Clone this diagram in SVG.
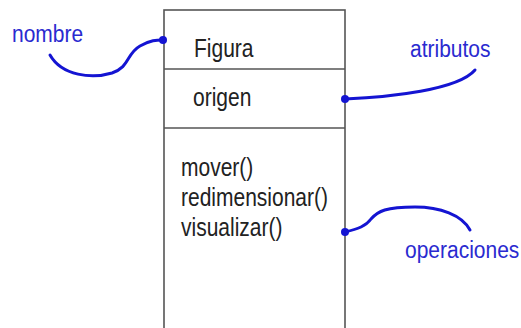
<svg xmlns="http://www.w3.org/2000/svg" width="521" height="328" viewBox="0 0 521 328">
<style>
.box{fill:#fff;stroke:#555;stroke-width:1.6}
.t{font-family:"Liberation Sans",Arial,sans-serif;font-size:21px;fill:#222}
.lbl{font-family:"Liberation Sans",Arial,sans-serif;font-size:21px;fill:#2a2ad0}
.c{fill:none;stroke:#1414d2;stroke-width:3;stroke-linecap:round}
.dot{fill:#1414d2}
</style>
<rect width="521" height="328" fill="#fff"/>
<g id="clase-figura">
<rect class="box" x="164" y="10" width="181" height="340"/>
<line class="box" x1="164" y1="69" x2="345" y2="69"/>
<line class="box" x1="164" y1="128" x2="345" y2="128"/>
<text class="t" transform="translate(194,57) scale(1,1.25)">Figura</text>
<text class="t" transform="translate(193,106) scale(1,1.25)">origen</text>
<text class="t" transform="translate(181,176) scale(1,1.25)">mover()</text>
<text class="t" transform="translate(181,206) scale(1,1.25)">redimensionar()</text>
<text class="t" transform="translate(181,236) scale(1,1.25)">visualizar()</text>
</g>
<g id="etiquetas">
<text class="lbl" transform="translate(12,42) scale(1,1.1)">nombre</text>
<text class="lbl" transform="translate(410,57) scale(1,1.1)">atributos</text>
<text class="lbl" transform="translate(405,258) scale(1,1.1)">operaciones</text>
</g>
<g id="conectores">
<path class="c" d="M50,55 C62,76 92,79 112,73 C130,67 126,54 140,46 C150,40 157,40 163,40"/>
<circle class="dot" cx="163" cy="40" r="4"/>
<path class="c" d="M345,99 C390,97 458,90 475,70"/>
<circle class="dot" cx="345" cy="99" r="4"/>
<path class="c" d="M345,232 C358,229 366,226 371,219 C378,211 386,207 415,207 C440,207 462,215 470,230"/>
<circle class="dot" cx="345" cy="232" r="4"/>
</g>
</svg>
